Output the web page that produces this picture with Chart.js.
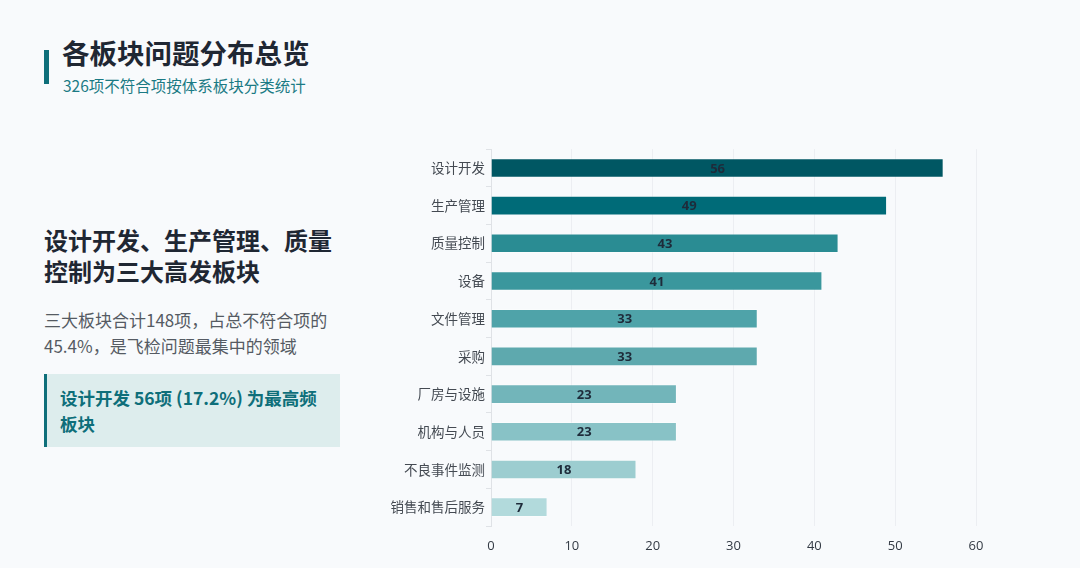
<!DOCTYPE html>
<html>
<head>
<meta charset="utf-8">
<script src="https://cdn.jsdelivr.net/npm/chart.js@4/dist/chart.umd.min.js"></script>
<style>
  html, body { margin: 0; padding: 0; }
  body {
    width: 1080px; height: 568px; overflow: hidden; position: relative;
    background: #f8fafc;
    font-family: "Noto Sans CJK SC", "Noto Sans", sans-serif;
  }
  .accent { position: absolute; left: 44px; top: 50px; width: 5px; height: 34px; background: #0e6f7a; }
  .title { position: absolute; left: 62px; top: 32px; font-size: 27.5px; font-weight: 700; color: #1f2733; }
  .subtitle { position: absolute; left: 63px; top: 74px; font-size: 15.5px; color: #1b7a84; }
  .headline { position: absolute; left: 44px; top: 224px; width: 300px; font-size: 24px; line-height: 31px; font-weight: 700; color: #1f2733; }
  .body { position: absolute; left: 44px; top: 307px; width: 300px; font-size: 17px; line-height: 26px; color: #555b63; }
  .callout { position: absolute; left: 44px; top: 374px; width: 293px; height: 73px; background: #ddeded; border-left: 3px solid #0e6f7a; }
  .callout div { position: absolute; left: 13px; top: 11px; width: 268px; font-size: 17.5px; line-height: 26px; font-weight: 700; color: #0e6f7a; }
  #wrap { position: absolute; left: 380px; top: 140px; width: 620px; height: 420px; }
</style>
</head>
<body>
<div class="accent"></div>
<div class="title">各板块问题分布总览</div>
<div class="subtitle">326项不符合项按体系板块分类统计</div>
<div class="headline">设计开发、生产管理、质量控制为三大高发板块</div>
<div class="body">三大板块合计148项，占总不符合项的45.4%，是飞检问题最集中的领域</div>
<div class="callout"><div>设计开发 56项 (17.2%) 为最高频板块</div></div>
<div id="wrap"><canvas id="myChart"></canvas></div>
<script>
const categories = [
  '设计开发', '生产管理', '质量控制', '设备', '文件管理',
  '采购', '厂房与设施', '机构与人员', '不良事件监测', '销售和售后服务'
];
const counts = [56, 49, 43, 41, 33, 33, 23, 23, 18, 7];
const barColors = [
  '#005763', '#006b78', '#2a8c93', '#3a979d', '#4fa3a9',
  '#5ea9ae', '#72b5ba', '#88c2c6', '#9ccdd0', '#b2dadc'
];
const xTicks = [0, 10, 20, 30, 40, 50, 60];

// numbers in the middle of each bar
const barValues = {
  id: 'barValues',
  afterDatasetsDraw(chart) {
    const ctx = chart.ctx;
    const meta = chart.getDatasetMeta(0);
    ctx.save();
    ctx.font = 'bold 13px "Open Sans", "Noto Sans", sans-serif';
    ctx.fillStyle = '#1e2b3a';
    ctx.textAlign = 'center';
    ctx.textBaseline = 'middle';
    meta.data.forEach((bar, i) => {
      ctx.fillText(counts[i], (bar.x + bar.base) / 2, bar.y + 1);
    });
    ctx.restore();
  }
};

const data = {
  labels: categories,
  datasets: [{
    data: counts,
    backgroundColor: barColors,
    borderColor: 'rgba(255,255,255,0.35)',
    borderWidth: 1,
    barPercentage: 0.52,
    categoryPercentage: 1.0
  }]
};

const config = {
  type: 'bar',
  data: data,
  options: {
    indexAxis: 'y',
    responsive: true,
    maintainAspectRatio: false,
    animation: false,
    layout: { padding: { top: 4, right: 24, left: 0, bottom: 0 } },
    plugins: {
      legend: { display: false },
      tooltip: { enabled: false }
    },
    scales: {
      x: {
        min: 0,
        max: 60,
        afterBuildTicks: (scale) => { scale.ticks = xTicks.map(v => ({ value: v })); },
        afterFit: (scale) => { scale.height = 34; },
        grid: { color: '#eceef2', drawTicks: false },
        border: { display: false },
        ticks: {
          padding: 12,
          color: '#333a44',
          font: { size: 13, family: '"Open Sans", "Noto Sans", sans-serif' }
        }
      },
      y: {
        afterFit: (scale) => { scale.width = 111; },
        grid: { drawOnChartArea: false, color: '#dfe2e6', tickLength: 5 },
        border: { color: '#dfe2e6' },
        ticks: {
          padding: 1,
          color: '#444a52',
          font: { size: 13.5, family: '"Noto Sans CJK SC", sans-serif' }
        }
      }
    }
  },
  plugins: [barValues]
};

const myChart = new Chart(document.getElementById('myChart'), config);
</script>
</body>
</html>
